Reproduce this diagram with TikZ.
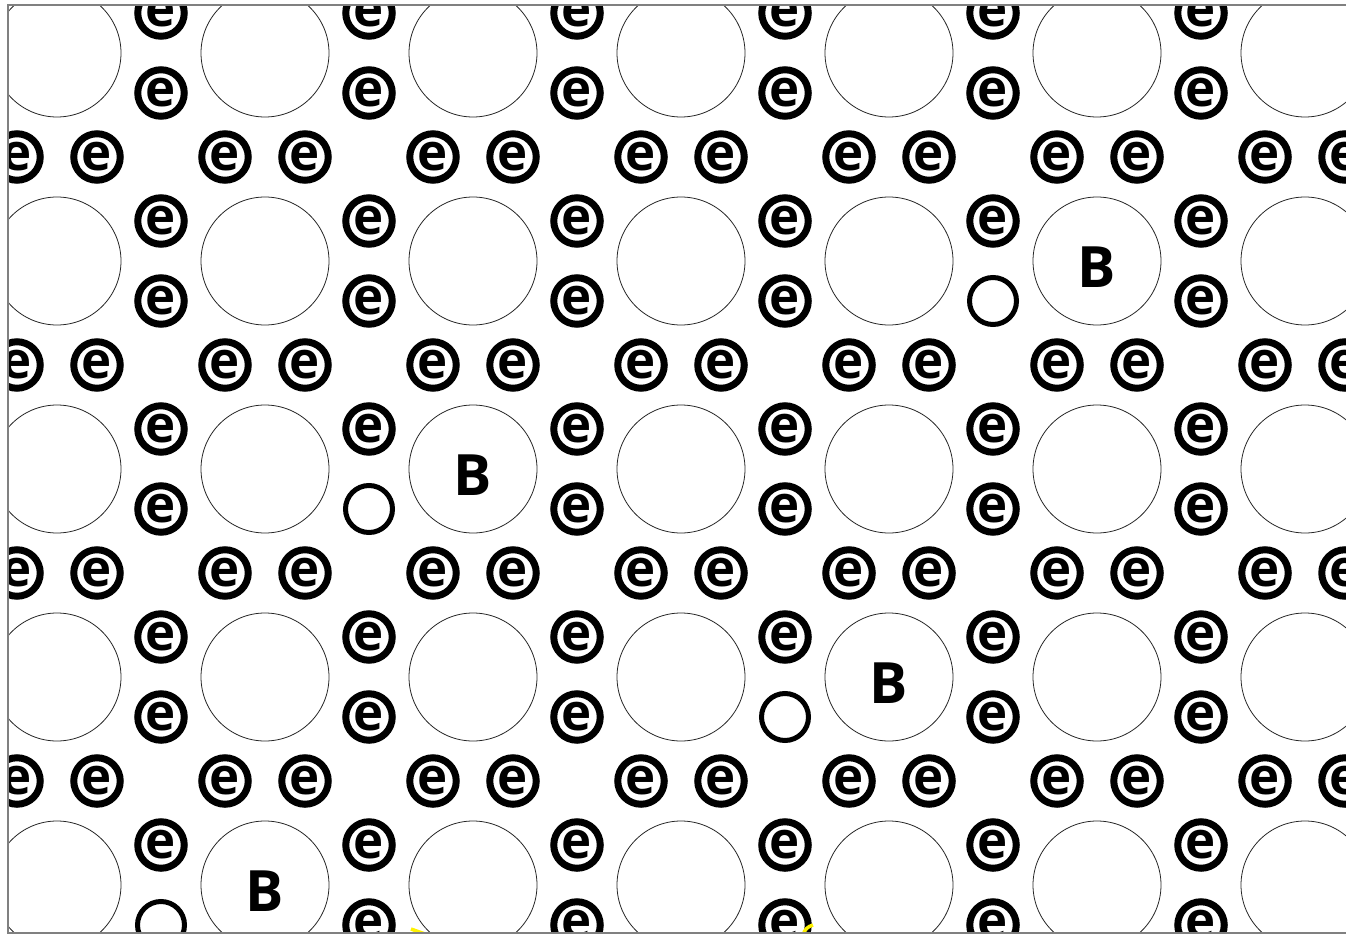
\documentclass[tikz,border=0pt]{standalone}
\usepackage{fontspec}
\usepackage{tikz}
\newfontfamily\latfont{Open Sans}

\begin{document}
\begin{tikzpicture}[x=1pt, y=-1pt,
  site/.style={circle, draw=black!85, line width=0.8pt, minimum size=128pt, inner sep=0pt},
  elec/.style={circle, draw=black, line width=7pt, minimum size=46.5pt, inner sep=0pt,
               font=\latfont\bfseries\fontsize{51}{51}\selectfont},
  hole/.style={circle, draw=black, line width=5pt, minimum size=47pt, inner sep=0pt},
  blab/.style={font=\latfont\bfseries\fontsize{57}{57}\selectfont, inner sep=0pt},
  edgeline/.style={draw=gray, line width=2pt},
]

\useasboundingbox (0,0) rectangle (1346,936);

\begin{scope}
\clip (8,5) rectangle (1346,933);

% lattice sites
\foreach \i in {0,...,6}
  \foreach \j in {0,...,4}
    \node[site] (s-\i-\j) at ({57+208*\i}, {53+208*\j}) {};

% electrons between the rows
\foreach \i in {0,...,6}
  \foreach \j in {0,...,3} {
    \node[elec] (h-\i-\j-a) at ({17+208*\i}, {157+208*\j}) {\raisebox{-2.5pt}{e}};
    \node[elec] (h-\i-\j-b) at ({97+208*\i}, {157+208*\j}) {\raisebox{-2.5pt}{e}};
  }

% electrons between the columns, one hole per row
\foreach \j/\h in {0/9, 1/4, 2/1, 3/3, 4/0}
  \foreach \k in {0,...,5} {
    \node[elec] (v-\k-\j-a) at ({161+208*\k}, {13+208*\j}) {\raisebox{-2.5pt}{e}};
    \ifnum\k=\h
      \node[hole] (v-\k-\j-b) at ({161+208*\k}, {93+208*\j}) {};
    \else
      \node[elec] (v-\k-\j-b) at ({161+208*\k}, {93+208*\j}) {\raisebox{-2.5pt}{e}};
    \fi
  }

% bound sites
\node[blab] (b1) at ([yshift=-6pt]s-5-1.center) {B};
\node[blab] (b2) at ([yshift=-6pt]s-2-2.center) {B};
\node[blab] (b3) at ([yshift=-6pt]s-4-3.center) {B};
\node[blab] (b4) at ([yshift=-6pt]s-1-4.center) {B};

\draw[yellow, line width=3.5pt] (411,929) -- (425,934);
\draw[yellow, line width=3.5pt] (803,935) to[bend left=30] (813,925);
\end{scope}

\draw[edgeline] (1346,5) -- (8,5) -- (8,933) -- (1346,933);

\end{tikzpicture}
\end{document}
